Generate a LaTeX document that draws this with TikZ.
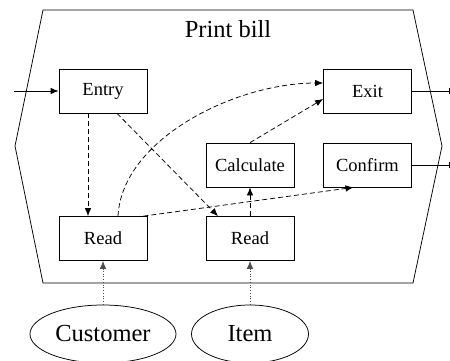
\documentclass[tikz,border=0pt]{standalone}
\usepackage{fontspec}
\setmainfont{Liberation Serif}
\usetikzlibrary{arrows.meta,shapes.geometric}
\tikzset{
  stepbox/.style={draw, line width=0.75pt, minimum width=88pt, minimum height=44pt,
    inner sep=0pt, font=\fontsize{18.5}{21}\selectfont},
  actor/.style={draw, ellipse, line width=0.75pt, minimum height=58pt, inner sep=0pt,
    font=\fontsize{24.5}{28}\selectfont},
  tip/.style={-{Latex[length=8pt,width=6.5pt]}},
  flow/.style={tip, line width=0.75pt},
  dflow/.style={tip, line width=0.75pt, dash pattern=on 5pt off 3pt},
  src/.style={tip, line width=0.75pt, dotted, draw=black!70},
}
\begin{document}
\begin{tikzpicture}[x=1pt, y=-1pt]
\clip (0,0) rectangle (450,360);

% activity frame
\draw[line width=0.75pt] (43,10) -- (413,10) -- (442,146) -- (413,283)
  -- (43,283) -- (15,146) -- cycle;
\node[anchor=base, font=\fontsize{24.5}{28}\selectfont] (title) at (228,37) {Print bill};

% steps
\node[stepbox] (entry) at (103,91)    {Entry};
\node[stepbox] (exit)  at (367.5,91)  {Exit};
\node[stepbox] (calc)  at (250,165)   {Calculate};
\node[stepbox] (conf)  at (367.5,165) {Confirm};
\node[stepbox] (readA) at (103,238.5) {Read};
\node[stepbox] (readB) at (250,238.5) {Read};

% sources
\node[actor, minimum width=146pt] (cust) at (103,334) {Customer};
\node[actor, minimum width=117pt] (item) at (250,334) {Item};

% boundary pins
\coordinate (in)    at (14,91);
\coordinate (outA)  at (457,91);
\coordinate (outB)  at (457,165);

\draw[flow] (in) -- (entry.west);
\draw[flow] (exit.east) -- (outA);
\draw[flow] (conf.east) -- (outB);

% control flow
\draw[dflow] ([xshift=-15pt]entry.south) -- ([xshift=-15pt]readA.north);
\draw[dflow] ([xshift=14pt]entry.south) -- ([xshift=-32pt]readB.north);
\draw[dflow] ([xshift=15pt]readA.north) .. controls +(4,-77) and +(-88,0)
  .. ([yshift=8pt]exit.west);
\draw[dflow] (calc.north) -- ([yshift=-8pt]exit.west);
\draw[dflow] ([xshift=-4pt]readA.north east) -- ([xshift=-14pt]conf.south);
\draw[dflow] (readB.north) -- (calc.south);

% data sources
\draw[src] (cust.north) -- (readA.south);
\draw[src] (item.north) -- (readB.south);
\end{tikzpicture}
\end{document}
